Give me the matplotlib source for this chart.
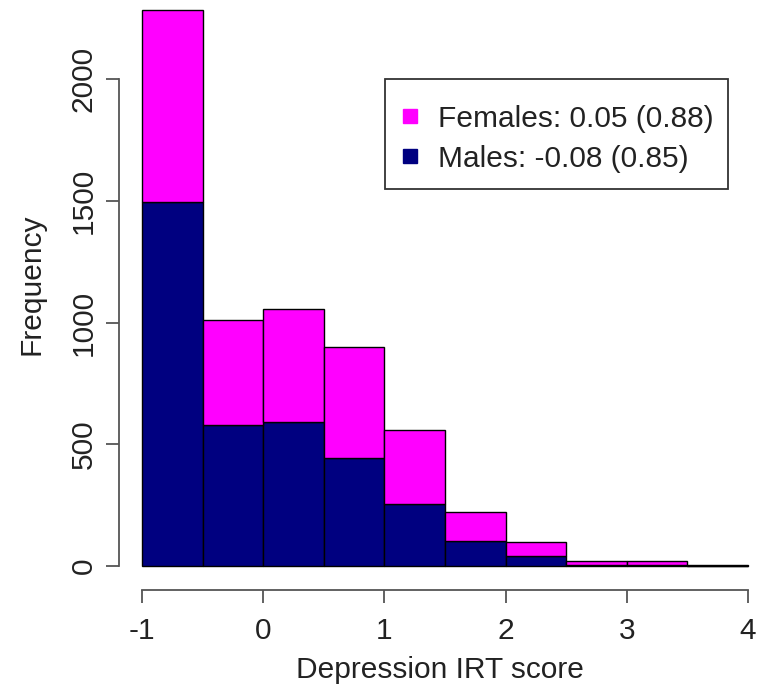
import matplotlib.pyplot as plt
from matplotlib.lines import Line2D
from matplotlib.patches import Rectangle
import numpy as np

# histogram breaks and counts per bin (males stacked under females)
breaks = [-1.0, -0.5, 0.0, 0.5, 1.0, 1.5, 2.0, 2.5, 3.0, 3.5, 4.0]
males = [1497, 579, 593, 444, 255, 104, 41, 3, 3, 2]
females = [785, 432, 463, 456, 304, 119, 59, 17, 17, 1]
legend_labels = ['Females: 0.05 (0.88)', 'Males: -0.08 (0.85)']
x_ticks = [-1, 0, 1, 2, 3, 4]
y_ticks = [0, 500, 1000, 1500, 2000]

plt.rcParams['font.family'] = ['Liberation Sans', 'DejaVu Sans']
FS = 21.5
AXIS_GREY = '#555555'

W, H = 765, 691
fig = plt.figure(figsize=(W / 100, H / 100), dpi=100)
ax = fig.add_axes([119 / W, (H - 590) / H, (W - 119) / W, 590 / H])

left = np.array(breaks[:-1])
width = np.diff(breaks)
male_arr = np.array(males)
fem_arr = np.array(females)

ax.bar(left, male_arr, width=width, align='edge', color='#000080',
       edgecolor='black', linewidth=1.0)
ax.bar(left, fem_arr, width=width, bottom=male_arr, align='edge',
       color='#FF00FF', edgecolor='black', linewidth=1.0)

ax.set_xlim(-1.19, 4.14)
ax.set_ylim(-98.6, 2325)

# R style axes: detached lines that only span the tick range
for side in ['top', 'right']:
    ax.spines[side].set_visible(False)
ax.spines['left'].set_bounds(0, 2000)
ax.spines['bottom'].set_bounds(-1, 4)
for side in ['left', 'bottom']:
    ax.spines[side].set_color(AXIS_GREY)
    ax.spines[side].set_linewidth(1.3)

ax.set_xticks(x_ticks)
ax.set_xticklabels([str(t) for t in x_ticks])
ax.set_yticks(y_ticks)
ax.set_yticklabels([str(t) for t in y_ticks], rotation=90, va='center')
ax.tick_params(axis='both', direction='out', length=9.5, width=1.3,
               color=AXIS_GREY, labelsize=FS, labelcolor='#222222')
ax.tick_params(axis='x', pad=10)
ax.tick_params(axis='y', pad=6)

fig.text(440 / W, 1 - 670 / H, 'Depression IRT score', fontsize=FS,
         ha='center', va='center', color='#222222')
fig.text(32 / W, 1 - 284 / H, 'Frequency', fontsize=FS, rotation=90,
         ha='center', va='center', color='#222222')

# legend box with roomier vertical padding than matplotlib's frame gives
box = Rectangle((385 / W, 1 - 189 / H), (728 - 385) / W, 110 / H,
                transform=fig.transFigure, facecolor='white',
                edgecolor='#333333', linewidth=1.3, zorder=4, clip_on=False)
ax.add_patch(box)

handles = [Line2D([], [], marker='s', linestyle='none', color=c, markersize=10)
           for c in ['#FF00FF', '#000080']]
leg = ax.legend(handles, legend_labels, loc='upper left',
                bbox_to_anchor=(385 / W, 1 - 87 / H),
                bbox_transform=fig.transFigure, borderaxespad=0,
                fontsize=FS, frameon=False, borderpad=0.6, handlelength=0.5,
                handletextpad=0.67, labelspacing=0.4)
leg.set_zorder(5)
for t in leg.get_texts():
    t.set_color('#222222')

fig.savefig('out.png', dpi=100)
